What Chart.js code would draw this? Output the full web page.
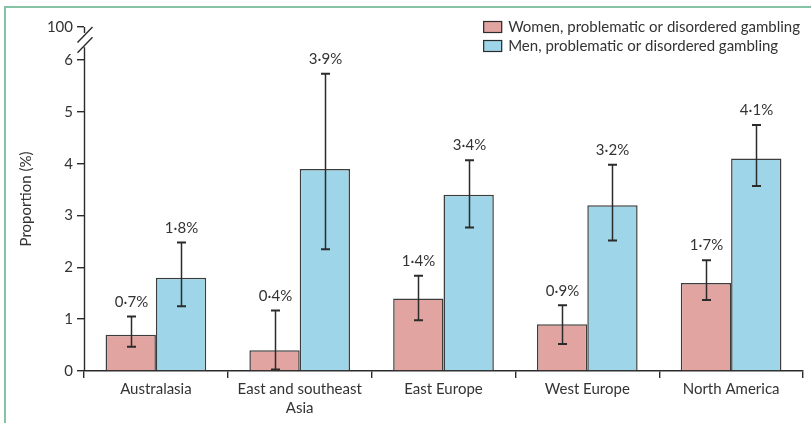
<!DOCTYPE html>
<html>
<head>
<meta charset="utf-8">
<script src="https://cdn.jsdelivr.net/npm/chart.js@4/dist/chart.umd.min.js"></script>
<style>
  html, body { margin: 0; padding: 0; background: #fff; }
  #wrap { position: relative; width: 811px; height: 423px; overflow: hidden; }
  #frame { position: absolute; left: 4px; top: 6px; width: 900px; height: 600px;
           border-left: 2px solid #86c2a4; border-top: 2px solid #86c2a4; }
  canvas { position: absolute; left: 0; top: 0; }
</style>
</head>
<body>
<div id="wrap">
  <div id="frame"></div>
  <canvas id="chart" width="811" height="423"></canvas>
</div>
<script>
// Regions on the x axis
const regions = ['Australasia', ['East and southeast', 'Asia'], 'East Europe', 'West Europe', 'North America'];

// Women: point estimate and 95% interval (%)
const womenValues = [0.7, 0.4, 1.4, 0.9, 1.7];
const womenLow    = [0.47, 0.03, 0.98, 0.52, 1.37];
const womenHigh   = [1.05, 1.17, 1.84, 1.27, 2.14];

// Men: point estimate and 95% interval (%)
const menValues = [1.8, 3.9, 3.4, 3.2, 4.1];
const menLow    = [1.25, 2.35, 2.77, 2.52, 3.57];
const menHigh   = [2.48, 5.74, 4.07, 3.98, 4.75];

// Y-axis ticks; the top tick stands for 100 above the axis break
const yTickValues = [0, 1, 2, 3, 4, 5, 6];
const breakTickValue = 6.64;
const breakTickLabel = '100';

const FONT = 'Lato, "Noto Sans", sans-serif';
const FONT_SIZE = 15;
const TEXT = '#333333';
const INK = '#2b2b2b';

const intervals = [
  { low: womenLow, high: womenHigh },
  { low: menLow, high: menHigh }
];

function fmt(v) { return v.toFixed(1).replace('.', '\u00B7') + '%'; }

// Whiskers and value labels on top of each bar
const errorBarPlugin = {
  id: 'errorBars',
  afterDatasetsDraw(chart) {
    const ctx = chart.ctx;
    const y = chart.scales.y;
    ctx.save();
    chart.data.datasets.forEach((ds, di) => {
      const meta = chart.getDatasetMeta(di);
      meta.data.forEach((bar, i) => {
        const x = Math.round(bar.x) + 0.5;
        const yl = y.getPixelForValue(intervals[di].low[i]);
        const yh = y.getPixelForValue(intervals[di].high[i]);
        ctx.strokeStyle = INK;
        ctx.lineWidth = 1.5;
        ctx.beginPath();
        ctx.moveTo(x, yl); ctx.lineTo(x, yh);
        ctx.stroke();
        ctx.lineWidth = 2;
        ctx.beginPath();
        ctx.moveTo(x - 4.5, yl); ctx.lineTo(x + 4.5, yl);
        ctx.moveTo(x - 4.5, yh); ctx.lineTo(x + 4.5, yh);
        ctx.stroke();
        ctx.fillStyle = TEXT;
        ctx.font = FONT_SIZE + 'px ' + FONT;
        ctx.textAlign = 'center';
        ctx.textBaseline = 'middle';
        ctx.fillText(fmt(ds.data[i]), x, yh - 14.5);
      });
    });
    ctx.restore();
  }
};

// Y axis line with a break between 6 and 100
const brokenAxisPlugin = {
  id: 'brokenAxis',
  afterDraw(chart) {
    const ctx = chart.ctx;
    const y = chart.scales.y;
    const x = Math.round(chart.chartArea.left) + 0.5;
    const y0 = y.getPixelForValue(0);
    const y6 = y.getPixelForValue(6);
    const yTop = y.getPixelForValue(breakTickValue);
    ctx.save();
    ctx.strokeStyle = INK;
    ctx.lineWidth = 1.4;
    ctx.beginPath();
    ctx.moveTo(x, y0); ctx.lineTo(x, y6 - 13);
    ctx.moveTo(x, yTop); ctx.lineTo(x, yTop + 6);
    const slashes = [yTop + 8, y6 - 15];
    slashes.forEach(cy => {
      ctx.moveTo(x - 7, cy + 7.5);
      ctx.lineTo(x + 8, cy - 8);
    });
    ctx.stroke();
    ctx.restore();
  }
};

// Legend in the top right corner, built from the datasets
const cornerLegendPlugin = {
  id: 'cornerLegend',
  afterDraw(chart) {
    const ctx = chart.ctx;
    ctx.save();
    ctx.font = FONT_SIZE + 'px ' + FONT;
    const dsets = chart.data.datasets;
    const widest = Math.max(...dsets.map(d => ctx.measureText(d.label).width));
    const textX = chart.chartArea.right - 3 - widest;
    const boxX = textX - 25;
    const rows = [27, 46];
    dsets.forEach((d, i) => {
      const cy = rows[i];
      ctx.fillStyle = d.backgroundColor;
      ctx.fillRect(boxX, cy - 6, 19, 12);
      ctx.strokeStyle = INK;
      ctx.lineWidth = 1.2;
      ctx.strokeRect(boxX + 0.5, cy - 5.5, 18, 11);
      ctx.fillStyle = TEXT;
      ctx.textAlign = 'left';
      ctx.textBaseline = 'middle';
      ctx.fillText(d.label, textX, cy);
    });
    ctx.restore();
  }
};

new Chart(document.getElementById('chart'), {
  type: 'bar',
  data: {
    labels: regions,
    datasets: [
      {
        label: 'Women, problematic or disordered gambling',
        data: womenValues,
        backgroundColor: '#e2a4a1',
        borderColor: '#3d3d3d',
        borderWidth: 1.5,
        categoryPercentage: 0.70,
        barPercentage: 1.0
      },
      {
        label: 'Men, problematic or disordered gambling',
        data: menValues,
        backgroundColor: '#9fd5e8',
        borderColor: '#3d3d3d',
        borderWidth: 1.5,
        categoryPercentage: 0.70,
        barPercentage: 1.0
      }
    ]
  },
  options: {
    responsive: false,
    animation: false,
    devicePixelRatio: 1,
    layout: { padding: { top: 27, right: 8, bottom: 0, left: 0 } },
    plugins: {
      legend: { display: false },
      tooltip: { enabled: false }
    },
    scales: {
      x: {
        grid: { display: true, offset: true, drawOnChartArea: false, drawTicks: true,
                tickLength: 7, color: INK, lineWidth: 1.4 },
        border: { display: true, color: INK, width: 1.4 },
        ticks: { color: TEXT, font: { family: FONT, size: FONT_SIZE, lineHeight: 1.3 },
                 padding: 1, maxRotation: 0, autoSkip: false },
        afterFit(scale) { scale.height = 52; }
      },
      y: {
        min: 0,
        max: breakTickValue,
        grid: { display: true, drawOnChartArea: false, drawTicks: true,
                tickLength: 7, color: INK, lineWidth: 1.4 },
        border: { display: false },
        ticks: {
          color: TEXT, font: { family: FONT, size: FONT_SIZE }, padding: 4,
          callback: (v) => v > 6 ? breakTickLabel : String(v)
        },
        afterBuildTicks(scale) {
          scale.ticks = yTickValues.concat([breakTickValue]).map(v => ({ value: v }));
        },
        title: {
          display: true, text: 'Proportion (%)', color: TEXT,
          font: { family: FONT, size: FONT_SIZE }, padding: { top: 17, bottom: 0 }
        },
        afterFit(scale) { scale.width = 84; }
      }
    }
  },
  plugins: [errorBarPlugin, brokenAxisPlugin, cornerLegendPlugin]
});
</script>
</body>
</html>
